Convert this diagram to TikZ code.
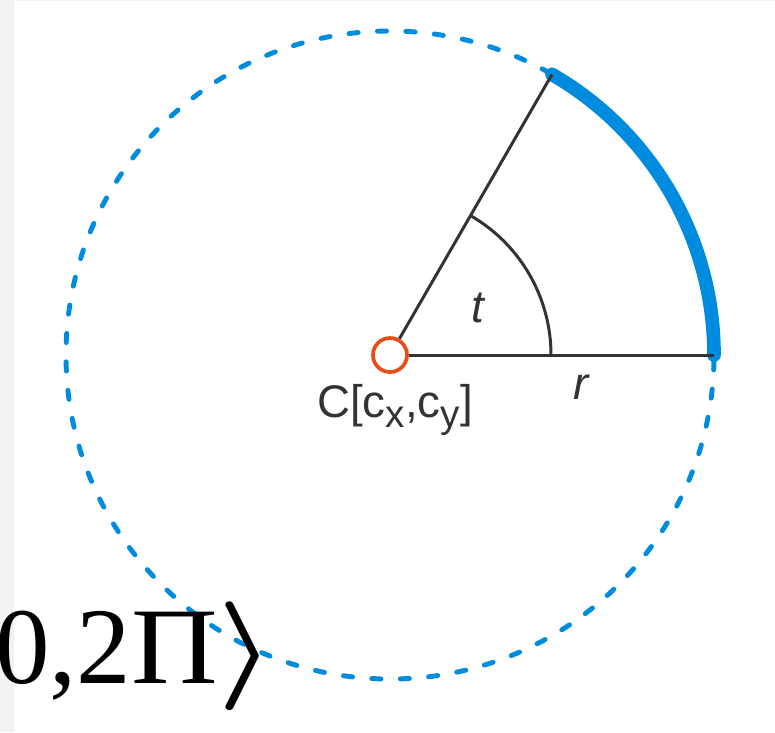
\RequirePackage{fix-cm}
\documentclass[tikz,border=0pt]{standalone}
\usepackage{fontspec}
\newfontfamily\labelfont{Liberation Sans}
\newfontfamily\bigfont{Liberation Serif}
\usepackage{tikz}
\definecolor{arcblue}{RGB}{0,140,222}
\definecolor{centerred}{RGB}{234,76,22}
\definecolor{ink}{RGB}{51,51,51}
\definecolor{sidegray}{RGB}{242,242,242}
\newcommand{\lowsub}[1]{\raisebox{-3pt}{\fontsize{11}{13}\selectfont #1}}

\begin{document}
\begin{tikzpicture}[line width=1pt,
    dashcircle/.style={arcblue, line width=1.4pt, line cap=round, dash pattern=on 2.6pt off 5.5pt},
    bigarc/.style={arcblue, line width=3.9pt, line cap=round},
    spoke/.style={ink, line width=0.85pt},
    centre/.style={circle, draw=centerred, fill=white, line width=1.05pt, minimum size=0.34cm, inner sep=0pt},
    lbl/.style={ink, inner sep=0pt, font=\labelfont\fontsize{13}{15}\selectfont}]
            \useasboundingbox (-3.90,-3.77) rectangle (3.85,3.55);
            \fill[white] (-3.90,-3.77) rectangle (3.85,3.55);
            \fill[sidegray] (-3.90,-3.77) rectangle (-3.76,3.55);
            \fill[sidegray] (-3.90,3.54) rectangle (3.85,3.55);
            \draw[dashcircle] (0,0) circle (3.24);
            \coordinate (a) at (0:3.24);
            \coordinate (b) at (60:3.24);
            \coordinate (m) at (0:1.61);
            \draw[bigarc] (a) arc[start angle=0, end angle=60, radius=3.24];
            \node[centre] (c) at (0,0) {};
            \draw[spoke] (c) -- (a);
            \draw[spoke] (c) -- (b);
            \draw[spoke] (m) arc[start angle=0, end angle=60, radius=1.61];
            \node[lbl] (t) at (0.88,0.475) {\itshape t};
            \node[lbl] (r) at (1.915,-0.325) {\itshape r};
            \node[lbl, anchor=base] (cname) at (0.05,-0.62) {C[c\lowsub{x},c\lowsub{y}]};
            \node[anchor=base west, inner sep=0pt, font=\bigfont\fontsize{31}{37}\selectfont] (range) at (-3.965,-3.28) {0,2\scalebox{1.1}[1]{Π}\scalebox{1.2}[1]{\boldmath$\rangle$}};
        \end{tikzpicture}
\end{document}
